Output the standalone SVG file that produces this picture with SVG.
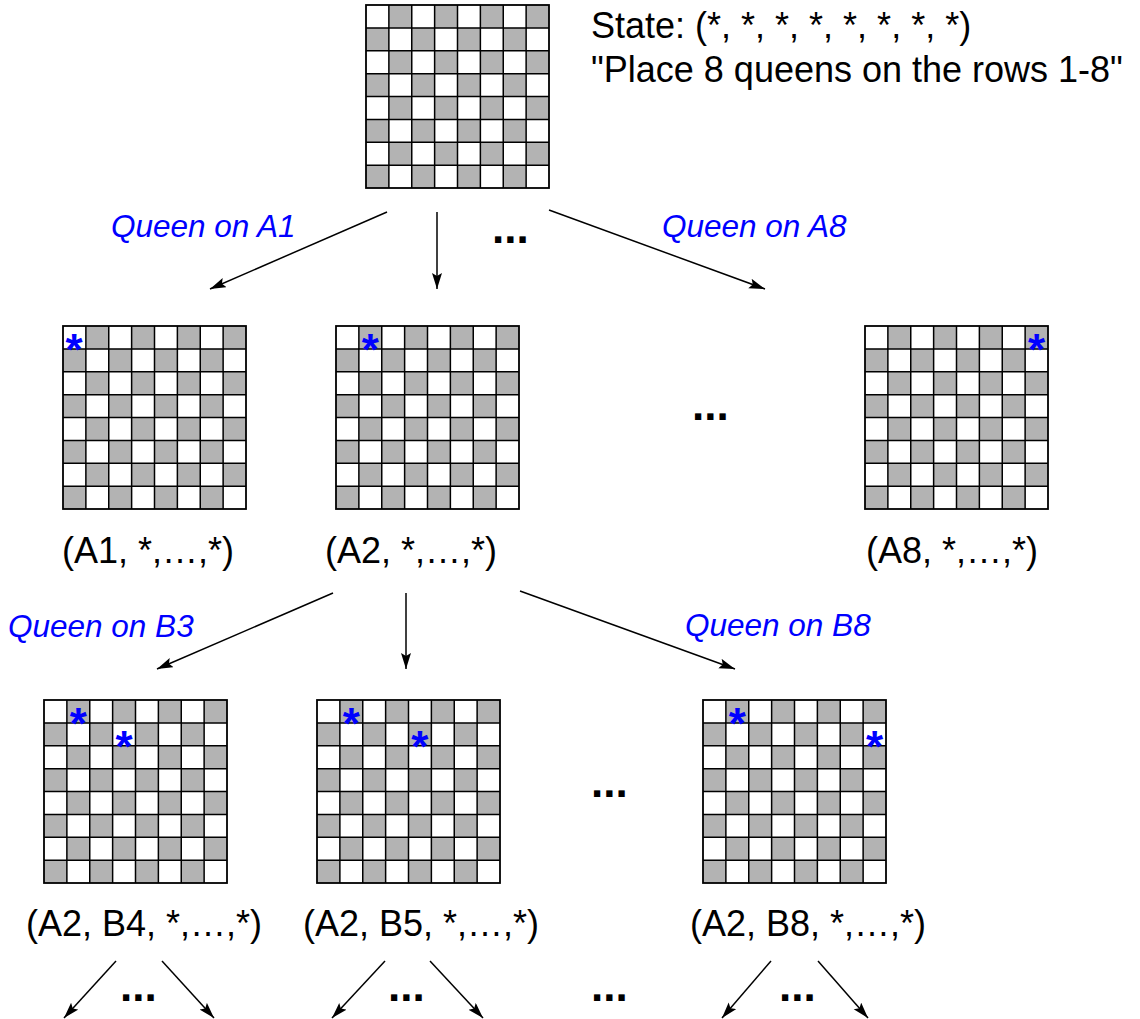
<svg xmlns="http://www.w3.org/2000/svg" xmlns:xlink="http://www.w3.org/1999/xlink" width="1140" height="1019" viewBox="0 0 1140 1019">
<style>
.lbl{font-family:"Liberation Sans",Arial,Helvetica,sans-serif;font-size:36px;fill:#000}
.q{font-family:"Liberation Sans",Arial,Helvetica,sans-serif;font-size:31.5px;font-style:italic;fill:#0000ff}
.dots{font-family:"Liberation Sans",Arial,Helvetica,sans-serif;font-size:44px;font-weight:bold;fill:#000}
.star{font-family:"Liberation Sans",Arial,Helvetica,sans-serif;font-size:44px;font-weight:bold;fill:#0000ff;text-anchor:middle}
.arr{stroke:#000;stroke-width:1.5;fill:none;marker-end:url(#ah)}
</style>
<defs>
<marker id="ah" markerUnits="userSpaceOnUse" markerWidth="17" markerHeight="12" refX="16" refY="5" orient="auto">
<path d="M0,0 L16,5 L0,10 L3,5 z" fill="#000"/>
</marker>
<pattern id="chk" patternUnits="userSpaceOnUse" x="0" y="0" width="45.75" height="45.75">
<rect x="0" y="0" width="45.75" height="45.75" fill="#fff"/>
<rect x="22.875" y="0" width="22.875" height="22.875" fill="#b3b3b3"/>
<rect x="0" y="22.875" width="22.875" height="22.875" fill="#b3b3b3"/>
</pattern>
<g id="board">
<rect x="0" y="0" width="183" height="183" fill="url(#chk)"/>
<path d="M22.875,0V183M45.75,0V183M68.625,0V183M91.5,0V183M114.375,0V183M137.25,0V183M160.125,0V183M0,22.875H183M0,45.75H183M0,68.625H183M0,91.5H183M0,114.375H183M0,137.25H183M0,160.125H183" stroke="#000" stroke-width="1.5" fill="none"/>
<rect x="0" y="0" width="183" height="183" fill="none" stroke="#000" stroke-width="1.8"/>
</g>
</defs>
<rect width="1140" height="1019" fill="#fff"/>

<g id="root">
<use xlink:href="#board" href="#board" x="366" y="5"/>
<text class="lbl" x="591" y="38">State: (*, *, *, *, *, *, *, *)</text>
<text class="lbl" x="591" y="82">"Place 8 queens on the rows 1-8"</text>
</g>

<g id="nodeA1">
<use xlink:href="#board" href="#board" x="63" y="326"/>
<text class="star" x="74" y="365">*</text>
<text class="lbl" x="62" y="563">(A1, *,…,*)</text>
</g>
<g id="nodeA2">
<use xlink:href="#board" href="#board" x="336" y="326"/>
<text class="star" x="370.3" y="365">*</text>
<text class="lbl" x="325" y="563">(A2, *,…,*)</text>
</g>
<g id="nodeA8">
<use xlink:href="#board" href="#board" x="865" y="326"/>
<text class="star" x="1036.6" y="365">*</text>
<text class="lbl" x="866" y="563">(A8, *,…,*)</text>
</g>

<g id="nodeB4">
<use xlink:href="#board" href="#board" x="44" y="700"/>
<text class="star" x="78.3" y="739">*</text>
<text class="star" x="124.1" y="762">*</text>
<text class="lbl" x="26" y="936">(A2, B4, *,…,*)</text>
</g>
<g id="nodeB5">
<use xlink:href="#board" href="#board" x="317" y="700"/>
<text class="star" x="351.3" y="739">*</text>
<text class="star" x="419.9" y="762">*</text>
<text class="lbl" x="303" y="936">(A2, B5, *,…,*)</text>
</g>
<g id="nodeB8">
<use xlink:href="#board" href="#board" x="703" y="700"/>
<text class="star" x="737.3" y="739">*</text>
<text class="star" x="874.6" y="762">*</text>
<text class="lbl" x="690" y="936">(A2, B8, *,…,*)</text>
</g>

<g id="ellipses">
<text class="dots" x="492" y="243">...</text>
<text class="dots" x="692" y="420">...</text>
<text class="dots" x="591" y="797">...</text>
<text class="dots" x="120" y="1001">...</text>
<text class="dots" x="388" y="1001">...</text>
<text class="dots" x="591" y="1001">...</text>
<text class="dots" x="779" y="1001">...</text>
</g>

<g id="connectors">
<line class="arr" x1="387" y1="212" x2="210" y2="289"/>
<line class="arr" x1="437" y1="212" x2="437" y2="289"/>
<line class="arr" x1="549" y1="210" x2="765" y2="289"/>
<line class="arr" x1="333" y1="593" x2="157" y2="669"/>
<line class="arr" x1="406" y1="593" x2="406" y2="669"/>
<line class="arr" x1="520" y1="591" x2="735" y2="669"/>
<line class="arr" x1="116" y1="961" x2="64" y2="1018"/>
<line class="arr" x1="162" y1="961" x2="214" y2="1018"/>
<line class="arr" x1="385" y1="961" x2="332" y2="1018"/>
<line class="arr" x1="430" y1="961" x2="483" y2="1018"/>
<line class="arr" x1="771" y1="961" x2="722" y2="1018"/>
<line class="arr" x1="818" y1="961" x2="868" y2="1018"/>
</g>

<g id="edge-labels">
<text class="q" x="111" y="237">Queen on A1</text>
<text class="q" x="662" y="237">Queen on A8</text>
<text class="q" x="8" y="637">Queen on B3</text>
<text class="q" x="685" y="636">Queen on B8</text>
</g>
</svg>
